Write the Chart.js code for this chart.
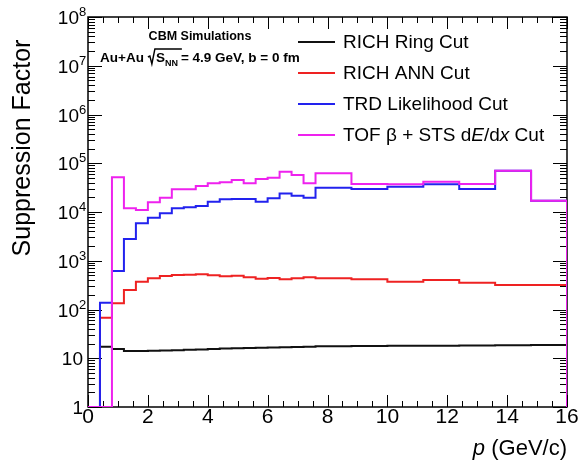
<!DOCTYPE html>
<html>
<head>
<meta charset="utf-8">
<script src="https://cdn.jsdelivr.net/npm/chart.js@4.4.0/dist/chart.umd.min.js"></script>
<style>
  html, body { margin: 0; padding: 0; background: #fff; }
  #wrap { width: 582px; height: 464px; }
</style>
</head>
<body>
<div id="wrap"><canvas id="suppressionChart" width="582" height="464"></canvas></div>
<script>
// bin edges in p (GeV/c): 0.4 wide up to 7.6, then 1.2 wide
const binEdges = [0, 0.4, 0.8, 1.2, 1.6, 2.0, 2.4, 2.8, 3.2, 3.6, 4.0, 4.4, 4.8, 5.2, 5.6, 6.0, 6.4, 6.8, 7.2,
                  7.6, 8.8, 10.0, 11.2, 12.4, 13.6, 14.8, 16.0];

// suppression factor per bin
const richRing = [1, 17.3, 15.5, 14.1, 14.1, 14.2, 14.4, 14.6, 14.9, 15.2, 15.5, 15.8, 16.1, 16.3, 16.5, 16.7, 16.9, 17.1, 17.3,
                  17.6, 17.8, 18.0, 18.1, 18.3, 18.5, 18.7];
const richAnn = [1, 68, 134, 251, 372, 436, 486, 510, 518, 526, 503, 480, 493, 458, 428, 443, 416, 440, 458,
                 436, 416, 372, 403, 355, 318, 318];
const trdLike = [1, 138, 617, 2790, 5860, 7640, 9400, 11900, 12500, 13300, 16300, 18200, 18500, 18500, 16300, 19100, 24100, 21600, 19700,
                 31600, 29600, 33000, 37000, 29600, 70300, 17000];
const tofSts = [1, 1, 51500, 11900, 11000, 15800, 19700, 29200, 29200, 34100, 38800, 40700, 45300, 38800, 47500, 50500, 67100, 57400, 38800,
                62200, 37500, 37000, 41800, 37500, 70300, 17000];

const seriesNames = ['RICH Ring Cut', 'RICH ANN Cut', 'TRD Likelihood Cut', 'TOF \u03b2 + STS dE/dx Cut'];
const seriesColors = ['#111111', '#ee2222', '#2222ee', '#ee22ee'];

const xTickLabels = [0, 2, 4, 6, 8, 10, 12, 14, 16];
const yDecades = [0, 1, 2, 3, 4, 5, 6, 7, 8];

const fontFam = '"Liberation Sans", Arial, Helvetica, sans-serif';

// outline of a histogram: left edge up, flat top per bin, drop at the end
function histPoints(vals) {
  let pts = [{x: binEdges[0], y: 1}];
  for (let i = 0; i < vals.length; i++) {
    pts.push({x: binEdges[i], y: vals[i]});
    pts.push({x: binEdges[i + 1], y: vals[i]});
  }
  pts.push({x: binEdges[binEdges.length - 1], y: 1});
  return pts;
}

function makeSet(i, vals, order) {
  return {
    label: seriesNames[i],
    data: histPoints(vals),
    borderColor: seriesColors[i],
    borderWidth: 2,
    pointRadius: 0,
    tension: 0,
    fill: false,
    order: order
  };
}

// frame + inward ticks on all four sides (ROOT style)
const framePlugin = {
  id: 'frame',
  beforeDatasetsDraw(chart) {
    const ctx = chart.ctx;
    const a = chart.chartArea;
    const xs = chart.scales.x, ys = chart.scales.y;
    ctx.save();
    ctx.strokeStyle = '#000';
    ctx.lineWidth = 1;
    ctx.beginPath();
    for (let v = 0; v <= 16.001; v += 0.5) {
      const px = Math.round(xs.getPixelForValue(v)) + 0.5;
      const len = (Math.abs(v % 2) < 0.01) ? 12 : 6;
      ctx.moveTo(px, a.bottom); ctx.lineTo(px, a.bottom - len);
      ctx.moveTo(px, a.top); ctx.lineTo(px, a.top + len);
    }
    for (let d = 0; d <= 8; d++) {
      for (let k = 1; k <= 9; k++) {
        if (d == 8 && k > 1) break;
        const py = Math.round(ys.getPixelForValue(k * Math.pow(10, d))) + 0.5;
        const len = k == 1 ? 14 : 7;
        ctx.moveTo(a.left, py); ctx.lineTo(a.left + len, py);
        ctx.moveTo(a.right, py); ctx.lineTo(a.right - len, py);
      }
    }
    ctx.stroke();
    ctx.lineWidth = 1.5;
    ctx.strokeRect(a.left, a.top, a.right - a.left, a.bottom - a.top);
    ctx.restore();
  },
  afterDraw(chart) {
    const ctx = chart.ctx;
    const a = chart.chartArea;
    const ys = chart.scales.y;
    ctx.save();
    ctx.fillStyle = '#000';

    // y tick labels: 1, 10, 10^2 ... 10^8
    yDecades.forEach(d => {
      const py = ys.getPixelForValue(Math.pow(10, d));
      ctx.font = '19px ' + fontFam;
      ctx.textAlign = 'right';
      ctx.textBaseline = 'alphabetic';
      if (d < 2) {
        ctx.fillText(d == 0 ? '1' : '10', a.left - 5, py + 7);
      } else {
        ctx.fillText('10', a.left - 9, py + 7);
        ctx.font = '13px ' + fontFam;
        ctx.textAlign = 'left';
        ctx.fillText(String(d), a.left - 9, py - 1);
      }
    });

    // y title
    ctx.save();
    ctx.translate(30, 148);
    ctx.rotate(-Math.PI / 2);
    ctx.font = '25px ' + fontFam;
    ctx.textAlign = 'center';
    ctx.textBaseline = 'alphabetic';
    ctx.fillText('Suppression Factor', 0, 0);
    ctx.restore();

    // x title, right aligned
    ctx.textBaseline = 'alphabetic';
    ctx.textAlign = 'left';
    ctx.font = '22px ' + fontFam;
    const rest = ' (GeV/c)';
    const wRest = ctx.measureText(rest).width;
    ctx.font = 'italic 22px ' + fontFam;
    const wP = ctx.measureText('p').width;
    let tx = a.right - wRest - wP;
    ctx.fillText('p', tx, 455);
    ctx.font = '22px ' + fontFam;
    ctx.fillText(rest, tx + wP, 455);

    // CBM label
    ctx.font = 'bold 12.5px ' + fontFam;
    ctx.textAlign = 'center';
    ctx.fillText('CBM Simulations', 200, 40);
    ctx.textAlign = 'left';
    ctx.font = 'bold 13.5px ' + fontFam;
    let lx = 100, ly = 62;
    ctx.fillText('Au+Au', lx, ly);
    lx += ctx.measureText('Au+Au').width + 4;
    // radical sign
    ctx.lineWidth = 1.4;
    ctx.beginPath();
    ctx.moveTo(lx, ly - 5);
    ctx.lineTo(lx + 2, ly - 6);
    ctx.lineTo(lx + 4, ly + 2);
    ctx.lineTo(lx + 7, ly - 13);
    ctx.lineTo(lx + 34, ly - 13);
    ctx.stroke();
    lx += 8;
    ctx.fillText('S', lx, ly);
    lx += ctx.measureText('S').width;
    ctx.font = 'bold 9px ' + fontFam;
    ctx.fillText('NN', lx, ly + 4);
    lx += ctx.measureText('NN').width + 3;
    ctx.font = 'bold 13.5px ' + fontFam;
    ctx.fillText('= 4.9 GeV, b = 0 fm', lx, ly);

    // legend
    const rows = [42, 73, 104, 135];
    rows.forEach((ry, i) => {
      ctx.strokeStyle = seriesColors[i];
      ctx.lineWidth = 2;
      ctx.beginPath();
      ctx.moveTo(298, ry); ctx.lineTo(335, ry);
      ctx.stroke();
      ctx.textBaseline = 'middle';
      ctx.textAlign = 'left';
      let x0 = 343;
      const parts = i < 3 ? [[seriesNames[i], '']] :
        [['TOF \u03b2 + STS d', ''], ['E', 'italic '], ['/d', ''], ['x', 'italic '], [' Cut', '']];
      parts.forEach(p => {
        ctx.font = p[1] + '19px ' + fontFam;
        ctx.fillText(p[0], x0, ry + 1);
        x0 += ctx.measureText(p[0]).width;
      });
    });
    ctx.restore();
  }
};

const ctx = document.getElementById('suppressionChart').getContext('2d');
const chart = new Chart(ctx, {
  type: 'line',
  data: {
    datasets: [
      makeSet(0, richRing, 3),
      makeSet(1, richAnn, 2),
      makeSet(2, trdLike, 1),
      makeSet(3, tofSts, 0)
    ]
  },
  options: {
    responsive: false,
    animation: false,
    layout: { padding: { left: 0, right: 15, top: 17, bottom: 0 } },
    plugins: { legend: { display: false }, tooltip: { enabled: false } },
    scales: {
      x: {
        type: 'linear', min: 0, max: 16,
        grid: { display: false, drawTicks: false },
        border: { display: false },
        ticks: { color: '#000', autoSkip: false, maxRotation: 0, padding: 0,
                 font: { family: fontFam, size: 21, lineHeight: 1 } },
        afterBuildTicks: s => { s.ticks = xTickLabels.map(v => ({ value: v })); },
        afterFit: s => { s.height = 57; }
      },
      y: {
        type: 'logarithmic', min: 1, max: 1e8,
        grid: { display: false, drawTicks: false },
        border: { display: false },
        ticks: { display: false },
        afterFit: s => { s.width = 88; }
      }
    }
  },
  plugins: [framePlugin]
});
</script>
</body>
</html>
